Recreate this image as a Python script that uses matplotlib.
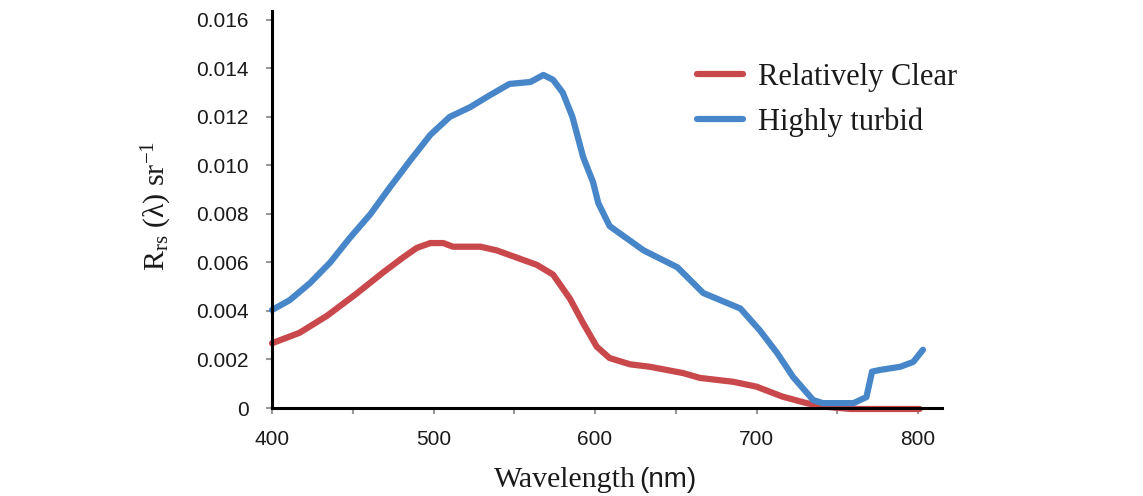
import matplotlib
matplotlib.use("Agg")
import matplotlib.pyplot as plt
from matplotlib.ticker import MultipleLocator, FixedLocator

plt.rcParams['mathtext.fontset'] = 'custom'
plt.rcParams['mathtext.rm'] = 'Liberation Serif'
plt.rcParams['mathtext.it'] = 'Liberation Serif:italic'

# readings (nm, sr^-1)
turbid_wl = [400, 411, 423.5, 436, 448, 461, 473, 485.5, 498, 510, 522.6, 535, 547, 560,
             568, 574, 580, 586, 592.6, 598.8, 602, 609, 630, 651, 667, 690, 702, 712.7,
             722.6, 735, 741, 760, 768, 771.5, 776.5, 789, 797, 803]
turbid_rrs = [0.00404, 0.00445, 0.00515, 0.0060, 0.0070, 0.0080, 0.0091, 0.0102, 0.01126,
              0.0120, 0.0124, 0.0129, 0.01336, 0.01344, 0.01373, 0.01353, 0.0130, 0.0120,
              0.01035, 0.0093, 0.00845, 0.0075, 0.0065, 0.0058, 0.00474, 0.0041, 0.0032,
              0.00227, 0.00128, 0.00033, 0.0002, 0.0002, 0.00045, 0.0015, 0.00157, 0.0017,
              0.0019, 0.0024]

clear_wl = [400, 417, 434, 452, 469, 481, 489.6, 498, 506, 512, 529, 539, 551.5, 564, 574,
            584.5, 592.6, 601, 609, 621.7, 634, 654.5, 665, 685.6, 700, 716, 731, 743, 758, 801]
clear_rrs = [0.00267, 0.0031, 0.0038, 0.0047, 0.0056, 0.0062, 0.0066, 0.0068, 0.0068, 0.00665,
             0.00665, 0.0065, 0.0062, 0.0059, 0.0055, 0.0045, 0.0035, 0.00253, 0.00206, 0.0018,
             0.0017, 0.00144, 0.00124, 0.00108, 0.00088, 0.00047, 0.0002, 0.00005, -0.00004,
             -0.00004]

y_ticks = [0, 0.002, 0.004, 0.006, 0.008, 0.010, 0.012, 0.014, 0.016]
y_labels = ['0', '0.002', '0.004', '0.006', '0.008', '0.010', '0.012', '0.014', '0.016']
x_ticks = [400, 500, 600, 700, 800]

red = '#C9484B'
blue = '#4686C9'

fig = plt.figure(figsize=(11.43, 4.96), dpi=100)
ax = fig.add_axes([0.238, 0.1774, 0.586, 0.8006])

ax.plot(clear_wl, clear_rrs, color=red, lw=4.5, label='Relatively Clear',
        solid_capstyle='round', solid_joinstyle='round', clip_on=False, zorder=2)
ax.plot(turbid_wl, turbid_rrs, color=blue, lw=4.5, label='Highly turbid',
        solid_capstyle='round', solid_joinstyle='round', clip_on=False, zorder=3)

ax.set_xlim(400, 814.7)
ax.set_ylim(0, 0.01637)

for s in ['top', 'right']:
    ax.spines[s].set_visible(False)
for s in ['left', 'bottom']:
    ax.spines[s].set_linewidth(2.2)
    ax.spines[s].set_color('black')
    ax.spines[s].set_zorder(4)

ax.xaxis.set_major_locator(FixedLocator(x_ticks))
ax.xaxis.set_minor_locator(MultipleLocator(50))
ax.set_yticks(y_ticks)
ax.set_yticklabels(y_labels)
ax.tick_params(axis='both', which='both', direction='out', length=4, width=1.5,
               color='#999999', labelsize=15, labelcolor='#1a1a1a')
ax.tick_params(axis='y', pad=13)
ax.tick_params(axis='x', pad=12)
ax.tick_params(axis='x', which='minor', length=4)
for lab in ax.get_xticklabels() + ax.get_yticklabels():
    lab.set_fontfamily('Liberation Sans')

fig.text(0.137, 0.585, r'$\mathrm{R_{rs}}$ (λ) sr$^{-1}$', rotation=90, ha='center',
         va='center', fontsize=21.5, family='Liberation Serif', color='#1a1a1a')
fig.text(0.5565, 0.018, 'Wavelength', ha='right', va='baseline', fontsize=21.5,
         family='Liberation Serif', color='#1a1a1a')
fig.text(0.5595, 0.018, '(nm)', ha='left', va='baseline', fontsize=20,
         family='Liberation Sans', color='#1a1a1a')

leg = ax.legend(loc='upper left', bbox_to_anchor=(697 / 1143, 1 - 63 / 496),
                bbox_transform=fig.transFigure, frameon=False, borderpad=0,
                borderaxespad=0, handlelength=1.5, handletextpad=0.5,
                labelspacing=0.5, prop={'family': 'Liberation Serif', 'size': 22})
for t in leg.get_texts():
    t.set_color('#1a1a1a')

fig.savefig('out.png', dpi=100)
